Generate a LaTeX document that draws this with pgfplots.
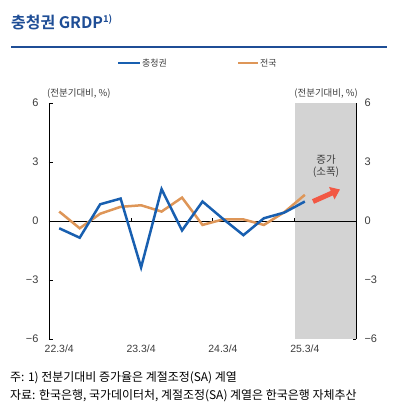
\documentclass[border=0pt]{standalone}
\usepackage{pgfplots}
\pgfplotsset{compat=1.18}
\usetikzlibrary{arrows.meta}
\usepackage{fontspec}
\setmainfont{Liberation Sans}
\newfontfamily\kr[BoldFont={Noto Sans CJK KR Bold}]{Noto Sans CJK KR}
\definecolor{titleblue}{RGB}{31,78,150}
\definecolor{sblue}{RGB}{24,95,176}
\definecolor{sorange}{RGB}{222,150,88}
\definecolor{shade}{RGB}{211,211,211}
\definecolor{arrowred}{RGB}{242,88,68}
\definecolor{txt}{RGB}{60,60,60}
\begin{document}
\begin{tikzpicture}[x=1bp,y=1bp]
\path[use as bounding box] (0,0) rectangle (396,417);
% title
\node[anchor=west, inner sep=0pt, text=titleblue] at (11,395) {\kr\bfseries\fontsize{16}{19}\selectfont 충청권 GRDP\textsuperscript{\fontsize{9.5}{10}\selectfont 1)}};
\draw[titleblue, line width=1.3bp] (11,370) -- (387,370);
% legend
\draw[sblue, line width=2.2bp] (118,354) -- (140,354);
\node[anchor=west, inner sep=0pt, text=txt] at (142,354) {\kr\fontsize{9}{10}\selectfont 충청권};
\draw[sorange, line width=2.2bp] (238,354) -- (258,354);
\node[anchor=west, inner sep=0pt, text=txt] at (260,354) {\kr\fontsize{9}{10}\selectfont 전국};
% unit labels
\node[anchor=west, inner sep=0pt, text=txt] at (47,323) {\kr\fontsize{9.5}{11}\selectfont (전분기대비, \%)};
\node[anchor=east, inner sep=0pt, text=txt] at (358,323) {\kr\fontsize{9.5}{11}\selectfont (전분기대비, \%)};
\begin{axis}[
  at={(49bp,78bp)}, anchor=south west,
  scale only axis, width=307bp, height=236bp,
  xmin=-0.5, xmax=14.5, ymin=-6, ymax=6,
  axis line style={draw=none},
  xtick={0,4,8,12},
  xticklabels={22.3/4,23.3/4,24.3/4,25.3/4},
  xtick style={draw=none},
  xticklabel style={font=\fontsize{10.5}{12}\selectfont, text=txt, yshift=-2bp},
  ytick={-6,-3,0,3,6},
  yticklabels={−6,−3,0,3,6},
  yticklabel pos=left,
  yticklabel style={font=\fontsize{11}{12}\selectfont, text=txt, xshift=-7bp},
  ytick style={black, line width=0.7bp},
  major tick length=3.5bp,
  clip=false,
]
\addplot[fill=shade, draw=none] coordinates {(11.5,-6) (14.5,-6) (14.5,6) (11.5,6)} -- cycle;
\draw[black, line width=0.8bp] (axis cs:-0.5,-6) -- (axis cs:-0.5,6);
\draw[black, line width=0.8bp] (axis cs:14.5,-6) -- (axis cs:14.5,6);
\draw[black, line width=0.8bp] (axis cs:-0.5,0) -- (axis cs:14.5,0);
\draw[black, line width=0.7bp] (axis cs:3.5,0) -- ([yshift=3bp]axis cs:3.5,0);
\draw[black, line width=0.7bp] (axis cs:7.5,0) -- ([yshift=3bp]axis cs:7.5,0);
\draw[black, line width=0.7bp] (axis cs:11.5,0) -- ([yshift=3bp]axis cs:11.5,0);
\addplot[sorange, line width=2.5bp, line join=miter] coordinates {
(0,0.48) (1,-0.37) (2,0.37) (3,0.72) (4,0.80) (5,0.48) (6,1.19) (7,-0.20) (8,0.08) (9,0.08) (10,-0.20) (11,0.45) (12,1.33)};
\addplot[sblue, line width=2.5bp, line join=miter] coordinates {
(0,-0.37) (1,-0.85) (2,0.85) (3,1.14) (4,-2.36) (5,1.62) (6,-0.48) (7,0.99) (8,0.11) (9,-0.72) (10,0.14) (11,0.43) (12,0.99)};
\end{axis}
\begin{axis}[
  at={(49bp,78bp)}, anchor=south west,
  scale only axis, width=307bp, height=236bp,
  xmin=-0.5, xmax=14.5, ymin=-6, ymax=6,
  axis line style={draw=none},
  xtick=\empty,
  ytick={-6,-3,0,3,6},
  yticklabels={−6,−3,0,3,6},
  yticklabel pos=right,
  ytick style={draw=none},
  yticklabel style={font=\fontsize{11}{12}\selectfont, text=txt, xshift=5bp},
]
\end{axis}
% annotation
\node[align=center, inner sep=0pt, text=txt, font=\kr\fontsize{10.5}{12.5}\selectfont] at (326,251) {증가\\(소폭)};
\draw[arrowred, line width=5bp, -{Triangle[length=9bp,width=13bp]}] (313,215.5) -- (340,227.5);
% notes
\node[anchor=west, inner sep=0pt, text=black] at (10,39) {\kr\fontsize{12}{14}\selectfont 주: 1) 전분기대비 증가율은 계절조정(SA) 계열};
\node[anchor=west, inner sep=0pt, text=black] at (10,21) {\kr\fontsize{12}{14}\selectfont 자료: 한국은행, 국가데이터처, 계절조정(SA) 계열은 한국은행 자체추산};
\end{tikzpicture}
\end{document}
